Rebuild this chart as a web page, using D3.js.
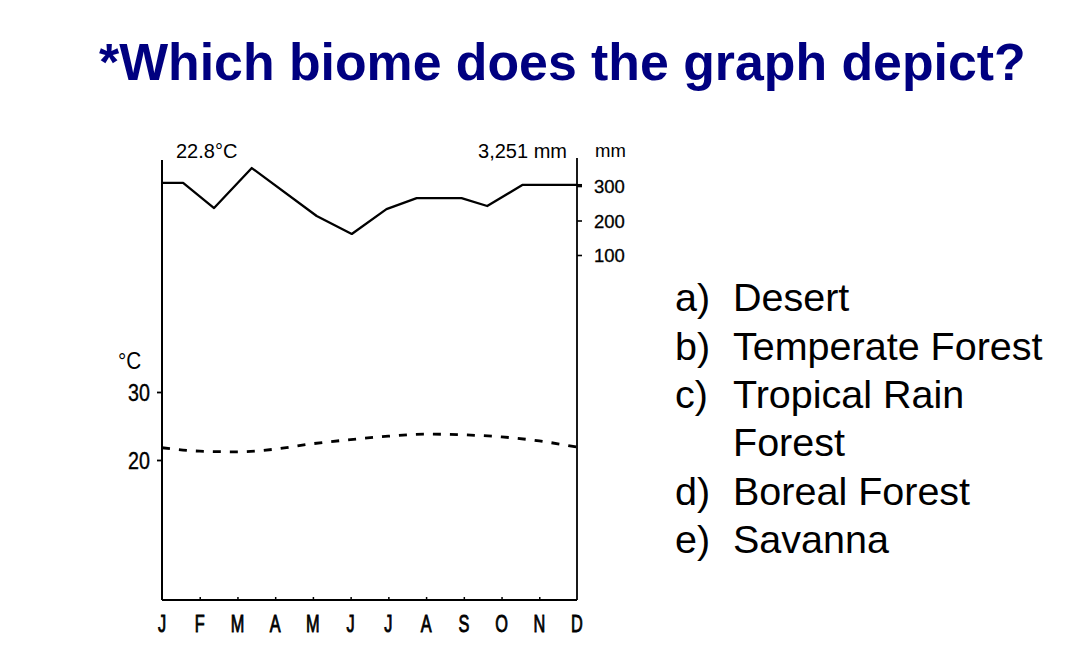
<!DOCTYPE html>
<html><head><meta charset="utf-8">
<script src="https://cdn.jsdelivr.net/npm/d3@7"></script>
<style>
html,body{margin:0;padding:0;background:#fff;}
svg{display:block;}
text{font-family:"Liberation Sans",Arial,Helvetica,sans-serif;}
</style></head>
<body>
<svg id="chart" width="1071" height="671"></svg>
<script>
// ---- data ----
const title = "*Which biome does the graph depict?";
const months = ["J","F","M","A","M","J","J","A","S","O","N","D"];
// mean monthly temperature (°C), one per month
const tempValues = [21.8, 21.3, 21.2, 21.6, 22.4, 23.0, 23.5, 23.8, 23.7, 23.4, 22.8, 21.9];
// precipitation curve vertices: position in months (0 = J ... 11 = D) and mm
const precipPos = [0, 0.56, 1.38, 2.38, 4.1, 5.03, 5.95, 6.75, 7.94, 8.62, 9.55, 11];
const precipMm  = [309, 309, 236, 352, 213, 161, 233, 265, 265, 242, 303, 303];
const tempTicks = [20, 30];
const precipTicks = [100, 200, 300];
const meanTempLabel = "22.8°C";
const totalPrecipLabel = "3,251 mm";
const answerLetters = ["a)", "b)", "c)", "", "d)", "e)"];
const answerTexts = ["Desert", "Temperate Forest", "Tropical Rain", "Forest", "Boreal Forest", "Savanna"];

// ---- layout ----
const svg = d3.select("#chart");
const L = 162, R = 577, T = 160, B = 600;

const xMonth = d3.scalePoint().domain(d3.range(12)).range([L, R]);
const xPos = d3.scaleLinear().domain([0, 11]).range([L, R]);
const yTemp = d3.scaleLinear().domain([20, 30]).range([460, 392]);
const yPrec = d3.scaleLinear().domain([100, 300]).range([255, 186]);

// title
svg.append("text").attr("x", 99).attr("y", 80)
  .attr("font-size", 51.8).attr("font-weight", "bold").attr("fill", "#000080")
  .text(title);

// axes
const gL = svg.append("g").attr("transform", `translate(${L},0)`)
  .call(d3.axisLeft(yTemp).tickValues(tempTicks).tickSize(5).tickFormat(""));
gL.select(".domain").remove();
gL.selectAll("line").attr("stroke", "#000").attr("stroke-width", 1.8);
svg.append("line").attr("x1", L).attr("x2", L).attr("y1", T).attr("y2", B)
  .attr("stroke", "#000").attr("stroke-width", 2);

const gR = svg.append("g").attr("transform", `translate(${R},0)`)
  .call(d3.axisRight(yPrec).tickValues(precipTicks).tickSize(5).tickFormat(""));
gR.select(".domain").remove();
gR.selectAll("line").attr("stroke", "#000").attr("stroke-width", 1.6);
svg.append("line").attr("x1", R).attr("x2", R).attr("y1", 158).attr("y2", B)
  .attr("stroke", "#000").attr("stroke-width", 1.8);

const gB = svg.append("g").attr("transform", `translate(0,${B})`)
  .call(d3.axisTop(xMonth).tickValues(d3.range(1, 11)).tickSize(3).tickFormat(""));
gB.select(".domain").remove();
gB.selectAll("line").attr("stroke", "#000").attr("stroke-width", 1.5);
svg.append("line").attr("x1", L).attr("x2", R).attr("y1", B).attr("y2", B)
  .attr("stroke", "#000").attr("stroke-width", 2);

// month labels (condensed)
svg.append("g").selectAll("g").data(months).join("g")
  .attr("transform", (d, i) => `translate(${xMonth(i)},632) scale(0.68,1)`)
  .append("text").attr("text-anchor", "middle").attr("font-size", 24)
  .attr("fill", "#000").attr("stroke", "#000").attr("stroke-width", 0.9).text(d => d);

// temp tick labels
svg.append("g").selectAll("g").data(tempTicks).join("g")
  .attr("transform", d => `translate(150,${yTemp(d) + 9}) scale(0.82,1)`)
  .append("text").attr("text-anchor", "end").attr("font-size", 24)
  .attr("fill", "#000").attr("stroke", "#000").attr("stroke-width", 0.4).text(d => d);
svg.append("g").attr("transform", "translate(118,369) scale(0.9,1)")
  .append("text").attr("font-size", 23).attr("fill", "#000").text("°C");

// precip tick labels
svg.append("g").selectAll("text").data(precipTicks).join("text")
  .attr("x", 594).attr("y", d => yPrec(d) + 7).attr("font-size", 18.5)
  .attr("fill", "#000").attr("stroke", "#000").attr("stroke-width", 0.3).text(d => d);
svg.append("text").attr("x", 595).attr("y", 157).attr("font-size", 18.5).attr("fill", "#000").text("mm");

// header labels
svg.append("text").attr("x", 176).attr("y", 158).attr("font-size", 20).attr("fill", "#000").text(meanTempLabel);
svg.append("text").attr("x", 567).attr("y", 158).attr("text-anchor", "end").attr("font-size", 20).attr("fill", "#000").text(totalPrecipLabel);

// precipitation line
const precipData = precipPos.map((p, i) => ({p, v: precipMm[i]}));
svg.append("path").datum(precipData)
  .attr("d", d3.line().x(d => xPos(d.p)).y(d => yPrec(d.v)))
  .attr("fill", "none").attr("stroke", "#000").attr("stroke-width", 2.3)
  .attr("stroke-linejoin", "round");
// small extension of the top line through the right axis
svg.append("line").attr("x1", R).attr("x2", R + 5)
  .attr("y1", yPrec(precipMm[precipMm.length - 1])).attr("y2", yPrec(precipMm[precipMm.length - 1]))
  .attr("stroke", "#000").attr("stroke-width", 2);

// temperature line (dashed)
svg.append("path").datum(tempValues)
  .attr("d", d3.line().x((d, i) => xMonth(i)).y(d => yTemp(d)).curve(d3.curveMonotoneX))
  .attr("fill", "none").attr("stroke", "#000").attr("stroke-width", 2.8)
  .attr("stroke-dasharray", "8,9");

// answers
const baselines = [311, 359.5, 408, 456, 504.5, 553];
const ga = svg.append("g");
answerTexts.forEach((t, i) => {
  ga.append("text").attr("x", 675).attr("y", baselines[i]).attr("font-size", 39.5).attr("fill", "#000").text(answerLetters[i]);
  ga.append("text").attr("x", 733).attr("y", baselines[i]).attr("font-size", 39.5).attr("fill", "#000").text(t);
});
</script>
</body></html>
